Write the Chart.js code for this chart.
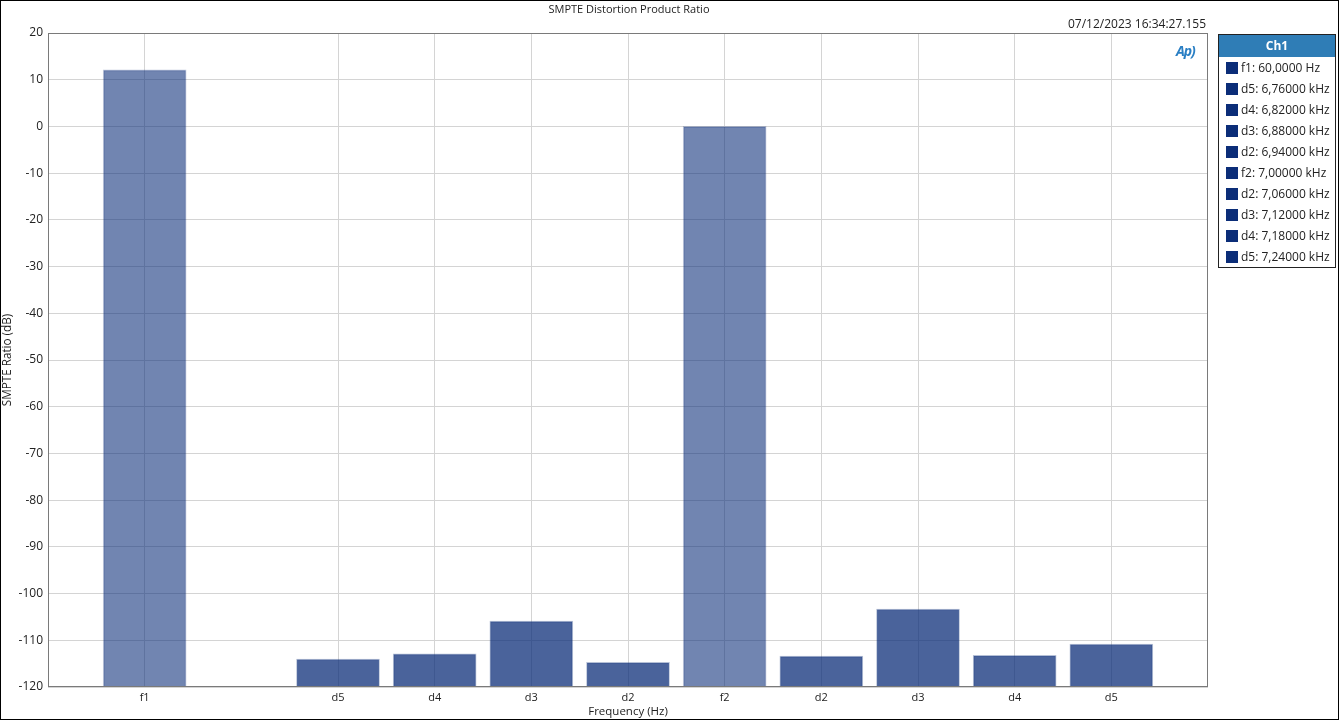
<!DOCTYPE html>
<html>
<head>
<meta charset="utf-8">
<script src="https://cdn.jsdelivr.net/npm/chart.js@4/dist/chart.umd.min.js"></script>
<style>
  html, body { margin: 0; padding: 0; background: #fff; }
  #wrap { position: relative; width: 1339px; height: 720px; box-sizing: border-box; border: 1px solid #000; overflow: hidden; font-family: "Open Sans", "Noto Sans", sans-serif; color: #222; }
  #chart { position: absolute; left: 0; top: 0; }
  #title { position: absolute; left: 48px; width: 1160px; top: 0px; text-align: center; font-size: 11px; }
  #stamp { position: absolute; right: 132px; top: 14px; font-size: 12px; }
  #logo { position: absolute; left: 1175px; top: 40px; font: italic bold 14px "Open Sans", sans-serif; color: #2a7fc4; letter-spacing: -1px; }
  #legend { position: absolute; left: 1217px; top: 33px; width: 116px; border: 1px solid #222; background: #fff; font-size: 12px; }
  #legend .head { background: #2f7db6; color: #fff; font-weight: bold; text-align: center; height: 22px; line-height: 22px; }
  #legend .item { height: 21px; line-height: 21px; padding-left: 7px; white-space: nowrap; }
  #legend .sw { display: inline-block; width: 12px; height: 12px; background: #0b2d78; vertical-align: -2px; margin-right: 3px; }
</style>
</head>
<body>
<div id="wrap">
  <canvas id="chart" width="1337" height="718"></canvas>
  <div id="title">SMPTE Distortion Product Ratio</div>
  <div id="stamp">07/12/2023 16:34:27.155</div>
  <div id="logo">Ap)</div>
  <div id="legend"></div>
</div>
<script>
// slots 0..12, bars on 1 and 3..11
const labels = ["", "f1", "", "d5", "d4", "d3", "d2", "f2", "d2", "d3", "d4", "d5", ""];
const ratioDb = [null, 12.1, null, -114.0, -112.9, -105.9, -114.7, 0, -113.4, -103.3, -113.2, -110.8, null];
const isFundamental = [false, true, false, false, false, false, false, true, false, false, false, false, false];

const legendTitle = "Ch1";
const legendLabels = [
  "f1: 60,0000 Hz",
  "d5: 6,76000 kHz",
  "d4: 6,82000 kHz",
  "d3: 6,88000 kHz",
  "d2: 6,94000 kHz",
  "f2: 7,00000 kHz",
  "d2: 7,06000 kHz",
  "d3: 7,12000 kHz",
  "d4: 7,18000 kHz",
  "d5: 7,24000 kHz",
];

const legendEl = document.querySelector("#legend");
legendEl.innerHTML =
  '<div class="head">' + legendTitle + "</div>" +
  legendLabels.map((t) => '<div class="item"><span class="sw"></span>' + t + "</div>").join("");

const FONT = "'Open Sans', 'Noto Sans', sans-serif";

const frameBorder = {
  id: "frameBorder",
  afterDraw(chart) {
    const { ctx, chartArea: a } = chart;
    ctx.save();
    ctx.strokeStyle = "#7a7a7a";
    ctx.lineWidth = 1;
    ctx.strokeRect(a.left + 0.5, a.top + 0.5, a.right - a.left - 1, a.bottom - a.top - 1);
    ctx.restore();
  },
};

const ctxChart = document.querySelector("#chart").getContext("2d");

new Chart(ctxChart, {
  type: "bar",
  data: {
    labels: labels,
    datasets: [
      {
        data: ratioDb,
        base: -120,
        barThickness: 83,
        backgroundColor: isFundamental.map((f) => (f ? "rgba(11,45,120,0.58)" : "rgba(11,45,120,0.74)")),
        borderColor: isFundamental.map((f) => (f ? "rgba(11,45,120,0.25)" : "rgba(11,45,120,0.3)")),
        borderWidth: 1,
      },
    ],
  },
  options: {
    responsive: false,
    animation: false,
    layout: { padding: { left: 0, top: 32, right: 130, bottom: 0 } },
    plugins: {
      legend: { display: false },
      tooltip: { enabled: false },
    },
    scales: {
      x: {
        offset: false,
        grid: {
          offset: false,
          drawTicks: false,
          color: (c) => (c.tick && c.tick.label ? "#d4d4d4" : "rgba(0,0,0,0)"),
        },
        border: { display: false },
        ticks: {
          autoSkip: false,
          maxRotation: 0,
          padding: 4,
          color: "#222",
          font: { family: FONT, size: 11 },
        },
        title: {
          display: true,
          text: "Frequency (Hz)",
          color: "#222",
          padding: { top: 0, bottom: 0 },
          font: { family: FONT, size: 11.5 },
        },
        afterFit(scale) {
          scale.height = 32;
        },
      },
      y: {
        min: -120,
        max: 20,
        grid: { color: "#d4d4d4", drawTicks: false },
        border: { display: false },
        ticks: {
          stepSize: 10,
          padding: 5,
          color: "#222",
          font: { family: FONT, size: 12 },
        },
        title: {
          display: true,
          text: "SMPTE Ratio (dB)",
          color: "#222",
          padding: { top: 0, bottom: 0 },
          font: { family: FONT, size: 11.7 },
        },
        afterFit(scale) {
          scale.width = 47;
        },
      },
    },
  },
  plugins: [frameBorder],
});
</script>
</body>
</html>
